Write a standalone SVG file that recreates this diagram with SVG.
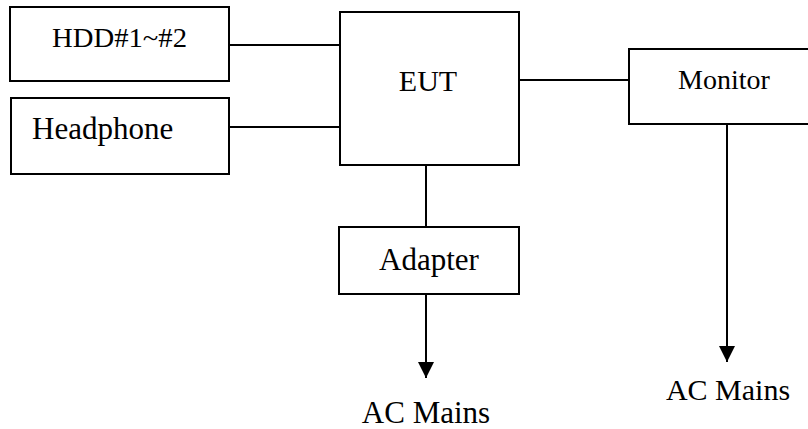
<svg xmlns="http://www.w3.org/2000/svg" width="808" height="429" viewBox="0 0 808 429">
<style>
.box{fill:#fff;stroke:#000;stroke-width:2}
.ln{stroke:#000;stroke-width:2;fill:none}
text{font-family:"Liberation Serif","Times New Roman",serif;fill:#000}
</style>
<defs>
<marker id="arr" markerWidth="16" markerHeight="16" viewBox="0 0 16 16" refX="16" refY="8" orient="auto" markerUnits="userSpaceOnUse">
<path d="M0,0 L16,8 L0,16 Z" fill="#000"/>
</marker>
</defs>
<rect width="808" height="429" fill="#fff"/>
<g id="connectors">
<line class="ln" x1="229" y1="45" x2="340" y2="45"/>
<line class="ln" x1="229" y1="127" x2="340" y2="127"/>
<line class="ln" x1="519" y1="80" x2="629" y2="80"/>
<line class="ln" x1="426" y1="165" x2="426" y2="227"/>
<line class="ln" x1="426" y1="294" x2="426" y2="378" marker-end="url(#arr)"/>
<line class="ln" x1="727" y1="124" x2="727" y2="362" marker-end="url(#arr)"/>
</g>
<g id="hdd">
<rect class="box" x="10" y="7" width="219" height="74"/>
<text x="52" y="47" font-size="28" textLength="135" lengthAdjust="spacingAndGlyphs">HDD#1~#2</text>
</g>
<g id="headphone">
<rect class="box" x="11" y="98" width="218" height="76"/>
<text x="32" y="139" font-size="31">Headphone</text>
</g>
<g id="eut">
<rect class="box" x="340" y="12" width="179" height="153"/>
<text x="428" y="91" font-size="30" text-anchor="middle">EUT</text>
</g>
<g id="monitor">
<rect class="box" x="629" y="49" width="182" height="75"/>
<text x="724" y="89" font-size="28" text-anchor="middle">Monitor</text>
</g>
<g id="adapter">
<rect class="box" x="339" y="227" width="180" height="67"/>
<text x="429" y="270" font-size="31" text-anchor="middle">Adapter</text>
</g>
<g id="ac1">
<text x="426" y="423" font-size="31" text-anchor="middle">AC Mains</text>
</g>
<g id="ac2">
<text x="728" y="400" font-size="30" text-anchor="middle">AC Mains</text>
</g>
</svg>
